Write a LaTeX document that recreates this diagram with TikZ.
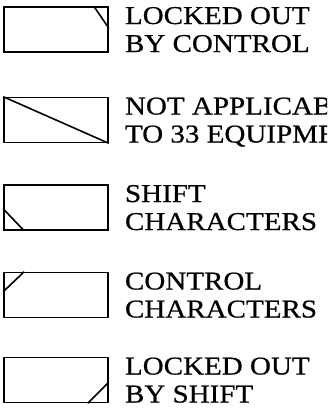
\documentclass[tikz,border=0pt]{standalone}
\usepackage{fontspec}
\setmainfont{Liberation Serif}[FakeStretch=1.13, FakeBold=0.6]
\usetikzlibrary{calc}
\begin{document}
\begin{tikzpicture}[
    x=1pt, y=-1pt,
    key/.style={draw, line width=1.6pt, minimum width=104pt, minimum height=45pt, inner sep=0pt},
    desc/.style={anchor=west, align=left, inner sep=0pt, text depth=0pt,
      font=\fontsize{25.7}{28}\selectfont},
    corner/.style={line width=1.6pt},
  ]
    \useasboundingbox (0,0) rectangle (327,418);
    \clip (0,0) rectangle (327,418);
    % legend keys
    \node[key] (lockctrl)  at (56,29.5) {};
    \node[key] (notappl)   at (56,120)  {};
    \node[key] (shiftch)   at (56,207.5) {};
    \node[key] (ctrlch)    at (56,295)  {};
    \node[key] (lockshift) at (56,380)  {};
    % corner marks
    \draw[corner] ($(lockctrl.north east)+(-15,0)$) -- ($(lockctrl.north east)+(0,22)$);
    \draw[corner] (notappl.north west) -- (notappl.south east);
    \draw[corner] ($(shiftch.south west)+(0,-22)$) -- ($(shiftch.south west)+(21,0)$);
    \draw[corner] ($(ctrlch.north west)+(21,0)$) -- ($(ctrlch.north west)+(0,20)$);
    \draw[corner] ($(lockshift.south east)+(-21,0)$) -- ($(lockshift.south east)+(0,-21)$);
    % descriptions
    \node[desc] (t1) at ($(lockctrl.east)+(16,0)$)  {LOCKED OUT\\BY CONTROL};
    \node[desc] (t2) at ($(notappl.east)+(16,0)$)   {NOT APPLICABLE\\TO 33 EQUIPMENT};
    \node[desc] (t3) at ($(shiftch.east)+(16,0)$)   {SHIFT\\CHARACTERS};
    \node[desc] (t4) at ($(ctrlch.east)+(16,0)$)    {CONTROL\\CHARACTERS};
    \node[desc] (t5) at ($(lockshift.east)+(16,0)$) {LOCKED OUT\\BY SHIFT};
\end{tikzpicture}
\end{document}
